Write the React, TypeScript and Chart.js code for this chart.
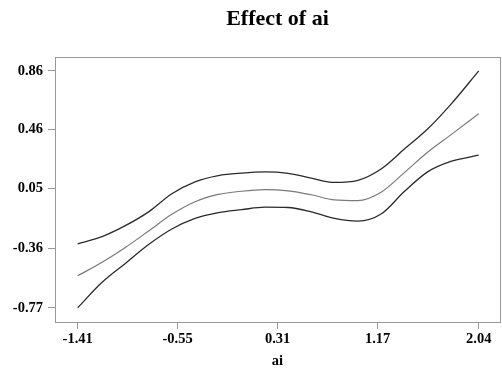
import React, { useEffect, useRef } from "react";
import { Chart, registerables } from "chart.js";

Chart.register(...registerables);

const xValues = [-1.41, -1.2, -1.0, -0.8, -0.6, -0.4, -0.2, 0.0, 0.2, 0.4, 0.6, 0.8, 1.0, 1.2, 1.4, 1.6, 1.8, 2.04];
const upperBand = [-0.33, -0.28, -0.205, -0.11, 0.015, 0.097, 0.14, 0.157, 0.165, 0.155, 0.122, 0.093, 0.107, 0.185, 0.322, 0.46, 0.63, 0.86];
const fitted = [-0.55, -0.457, -0.355, -0.242, -0.127, -0.04, 0.01, 0.032, 0.043, 0.035, 0.008, -0.028, -0.033, 0.025, 0.16, 0.3, 0.42, 0.565];
const lowerBand = [-0.77, -0.595, -0.465, -0.335, -0.228, -0.155, -0.115, -0.095, -0.078, -0.08, -0.11, -0.155, -0.173, -0.125, 0.03, 0.165, 0.237, 0.28];

const xTicks = [-1.41, -0.55, 0.31, 1.17, 2.04];
const yTicks = [-0.77, -0.36, 0.05, 0.46, 0.86];

const titleText = "Effect of ai";
const xLabel = "ai";

const FONT = "'Liberation Serif', 'Times New Roman', serif";

export default function App() {
  const ref = useRef<HTMLCanvasElement | null>(null);

  useEffect(() => {
    if (!ref.current) return;
    const mk = (ys: number[]) => xValues.map((x, i) => ({ x, y: ys[i] }));
    const frame = {
      id: "frame",
      afterDraw(chart: any) {
        const { ctx, chartArea } = chart;
        ctx.save();
        ctx.strokeStyle = "#9a9a9a";
        ctx.lineWidth = 1;
        ctx.strokeRect(
          Math.round(chartArea.left) + 0.5,
          Math.round(chartArea.top) + 0.5,
          Math.round(chartArea.right - chartArea.left),
          Math.round(chartArea.bottom - chartArea.top)
        );
        ctx.fillStyle = "#000";
        ctx.font = `bold 22px ${FONT}`;
        ctx.textAlign = "center";
        ctx.textBaseline = "alphabetic";
        ctx.fillText(titleText, (chartArea.left + chartArea.right) / 2, 25);
        ctx.restore();
      },
    };
    const chart = new Chart(ref.current, {
      type: "line",
      data: {
        datasets: [
          { data: mk(upperBand), borderColor: "#2a2a2a", borderWidth: 1.3, pointRadius: 0, tension: 0.4, cubicInterpolationMode: "monotone" },
          { data: mk(fitted), borderColor: "#7a7a7a", borderWidth: 1.2, pointRadius: 0, tension: 0.4, cubicInterpolationMode: "monotone" },
          { data: mk(lowerBand), borderColor: "#2a2a2a", borderWidth: 1.3, pointRadius: 0, tension: 0.4, cubicInterpolationMode: "monotone" },
        ],
      } as any,
      options: {
        animation: false,
        responsive: false,
        maintainAspectRatio: false,
        layout: { padding: { top: 57, right: 2, bottom: 5, left: 0 } },
        plugins: { legend: { display: false }, tooltip: { enabled: false }, title: { display: false } },
        scales: {
          x: {
            type: "linear",
            min: -1.605,
            max: 2.223,
            afterBuildTicks: (s: any) => { s.ticks = xTicks.map((v) => ({ value: v })); },
            afterFit: (s: any) => { s.height = 48; },
            border: { display: false },
            grid: { drawOnChartArea: false, drawTicks: true, tickLength: 7, color: "#9a9a9a" },
            ticks: {
              color: "#000",
              font: { family: FONT, size: 14.5, weight: "bold" },
              padding: 2,
              maxRotation: 0,
              autoSkip: false,
              callback: (v: any) => Number(v).toFixed(2),
            },
            title: { display: true, text: xLabel, color: "#000", font: { family: FONT, size: 14.5, weight: "bold" }, padding: { top: 0, bottom: 0 } },
          },
          y: {
            type: "linear",
            min: -0.868,
            max: 0.956,
            afterBuildTicks: (s: any) => { s.ticks = yTicks.map((v) => ({ value: v })); },
            afterFit: (s: any) => { s.width = 55; },
            border: { display: false },
            grid: { drawOnChartArea: false, drawTicks: true, tickLength: 7, color: "#9a9a9a" },
            ticks: {
              color: "#000",
              font: { family: FONT, size: 14.5, weight: "bold" },
              padding: 5,
              autoSkip: false,
              callback: (v: any) => Number(v).toFixed(2),
            },
          },
        },
      } as any,
      plugins: [frame],
    });
    return () => chart.destroy();
  }, []);

  return (
    <div style={{ position: "fixed", left: 0, top: 0, width: 502, height: 375, background: "#fff" }}>
      <canvas ref={ref} width={502} height={375} style={{ width: 502, height: 375 }} />
    </div>
  );
}
